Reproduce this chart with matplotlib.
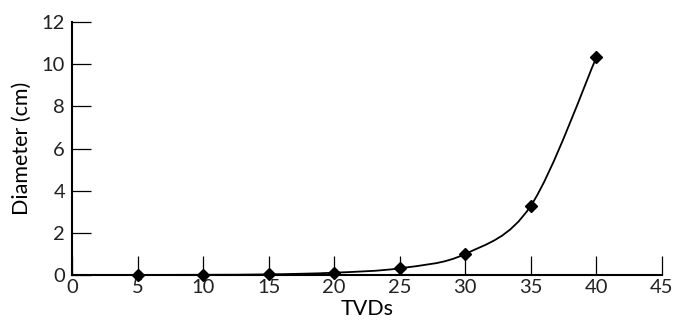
import matplotlib
matplotlib.use("Agg")
import matplotlib.pyplot as plt
from matplotlib.path import Path
from matplotlib.patches import PathPatch
import numpy as np

tvds = [5, 10, 15, 20, 25, 30, 35, 40]
diameter = [0.003, 0.01, 0.03, 0.11, 0.32, 1.0, 3.29, 10.33]
xticks = [0, 5, 10, 15, 20, 25, 30, 35, 40, 45]
yticks = [0, 2, 4, 6, 8, 10, 12]

plt.rcParams['font.family'] = ['Lato', 'DejaVu Sans']
plt.rcParams['font.weight'] = 'normal'
plt.rcParams['text.color'] = '#222222'
plt.rcParams['xtick.labelcolor'] = '#222222'
plt.rcParams['ytick.labelcolor'] = '#222222'

fig = plt.figure(figsize=(6.77, 3.27), dpi=100)
ax = fig.add_axes([72/677, 1 - 275/327, (662-72)/677, (275-22)/327])

# smooth curve (Catmull-Rom style bezier through data points)
pts = np.column_stack([tvds, diameter])
verts = [tuple(pts[0])]
codes = [Path.MOVETO]
n = len(pts)
for i in range(n - 1):
    p0 = pts[i - 1] if i > 0 else pts[i]
    p1 = pts[i]
    p2 = pts[i + 1]
    p3 = pts[i + 2] if i + 2 < n else pts[i + 1]
    c1 = p1 + (p2 - p0) / 6.0
    c2 = p2 - (p3 - p1) / 6.0
    verts += [tuple(c1), tuple(c2), tuple(p2)]
    codes += [Path.CURVE4] * 3
patch = PathPatch(Path(verts, codes), facecolor='none', edgecolor='black', lw=1.3,
                  transform=ax.transData, clip_on=False)
ax.add_patch(patch)
ax.plot(tvds, diameter, linestyle='none', marker='D', color='black', markersize=6.3,
        clip_on=False, zorder=3)

ax.set_xlim(0, 45)
ax.set_ylim(0, 12)
ax.set_xticks(xticks)
ax.set_yticks(yticks)
for s in ['top', 'right']:
    ax.spines[s].set_visible(False)
for s in ['left', 'bottom']:
    ax.spines[s].set_linewidth(1.5)
ax.tick_params(axis='both', direction='in', length=14, width=0.9, labelsize=14.5, pad=5)
ax.tick_params(axis='x', pad=3)
ax.set_xlabel('TVDs', fontsize=15.5, labelpad=2)
ax.set_ylabel('Diameter (cm)', fontsize=15.5, labelpad=7)

fig.savefig('out.png', dpi=100)
